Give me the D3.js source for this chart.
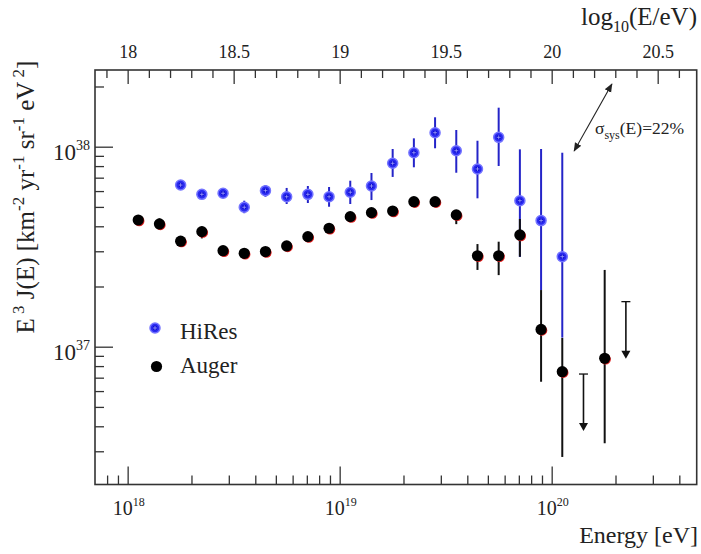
<!DOCTYPE html>
<html>
<head>
<meta charset="utf-8">
<script src="https://cdn.jsdelivr.net/npm/d3@7/dist/d3.min.js"></script>
<style>
body { margin: 0; background: #fff; }
svg text { font-family: 'Liberation Serif', 'DejaVu Serif', serif; fill: #222; }
</style>
</head>
<body>
<div id="chart"></div>
<script>
const width = 701;
const height = 554;

// plot frame
const plotLeft = 95, plotRight = 696.7, plotTop = 70, plotBottom = 484.5;

// Auger spectrum, E^3 J in units of 1e37
const augerLogE = [18.05, 18.15, 18.25, 18.35, 18.45, 18.55, 18.65, 18.75, 18.85, 18.95, 19.05, 19.15, 19.25, 19.35, 19.45, 19.55, 19.65, 19.75, 19.85, 19.95, 20.05, 20.25];
const augerFlux = [4.30, 4.11, 3.37, 3.76, 3.02, 2.93, 2.99, 3.19, 3.55, 3.91, 4.47, 4.68, 4.77, 5.31, 5.31, 4.56, 2.85, 2.85, 3.62, 1.22, 0.75, 0.875];
const augerLow = [4.18, 3.85, 3.15, 3.48, 2.94, 2.86, 2.92, 3.12, 3.47, 3.82, 4.36, 4.55, 4.62, 5.12, 5.08, 4.10, 2.42, 2.28, 2.82, 0.668, 0.281, 0.329];
const augerHigh = [4.42, 4.38, 3.54, 3.98, 3.10, 3.00, 3.06, 3.26, 3.63, 4.00, 4.58, 4.81, 4.92, 5.50, 5.54, 4.80, 3.26, 3.35, 4.35, 1.92, 1.106, 2.42];
// Auger upper limits
const augerLimitLogE = [20.15, 20.35];
const augerLimitFlux = [0.73, 1.68];

// HiRes spectrum, E^3 J in units of 1e37
const hiresLogE = [18.25, 18.35, 18.45, 18.55, 18.65, 18.75, 18.85, 18.95, 19.05, 19.15, 19.25, 19.35, 19.45, 19.55, 19.65, 19.75, 19.85, 19.95, 20.05];
const hiresFlux = [6.43, 5.78, 5.85, 4.98, 6.03, 5.62, 5.78, 5.62, 5.92, 6.36, 8.26, 9.33, 11.75, 9.55, 7.74, 11.14, 5.37, 4.27, 2.82];
const hiresLow = [6.14, 5.52, 5.58, 4.65, 5.62, 5.17, 5.23, 5.01, 5.17, 5.41, 7.06, 7.89, 9.82, 7.41, 5.52, 8.01, 2.81, 1.92, 1.11];
const hiresHigh = [6.74, 6.05, 6.12, 5.37, 6.43, 6.22, 6.36, 6.29, 6.76, 7.39, 9.74, 11.01, 14.03, 12.12, 10.71, 15.67, 9.70, 9.74, 9.33];

// tick labels
const topTicks = [18, 18.5, 19, 19.5, 20, 20.5];
const xDecades = [18, 19, 20];
const yDecades = [37, 38];

// systematic uncertainty arrow (log E, flux in 1e37)
const sysLogE = [20.106, 20.284];
const sysFlux = [9.52, 20.6];

const unit = 1e37;
const serif = "'Liberation Serif', 'DejaVu Serif', serif";

//creating SVG
let svg = d3.select("#chart")
    .append("svg")
    .attr("width", width)
    .attr("height", height)
    .style("font-family", serif);

//scales
const logMin = 17.846, logMax = 20.684;
const x = d3.scaleLog()
    .domain([Math.pow(10, logMin), Math.pow(10, logMax)])
    .range([plotLeft, plotRight]);
const xTop = d3.scaleLinear()
    .domain([logMin, logMax])
    .range([plotLeft, plotRight]);
const y = d3.scaleLog()
    .domain([Math.pow(10, 36.311), Math.pow(10, 38.3835)])
    .range([plotBottom, plotTop]);

const E = l => Math.pow(10, l);

//minor tick positions for log axes
const minorLog = (lo, hi, dom) => {
    let out = [];
    for (let e = lo; e <= hi; e++) {
        for (let m = 2; m <= 9; m++) {
            let v = m * Math.pow(10, e);
            if (v > dom[0] && v < dom[1]) out.push(v);
        }
    }
    return out;
};

const tickColor = "#333";

//left axis
svg.append("g")
    .attr("transform", "translate(" + plotLeft + ",0)")
    .attr("color", tickColor)
    .call(d3.axisLeft(y).tickValues(yDecades.map(E)).tickSize(-18).tickFormat(""))
    .call(g => g.select(".domain").remove())
    .selectAll("line").attr("stroke-width", 1.3);
svg.append("g")
    .attr("transform", "translate(" + plotLeft + ",0)")
    .attr("color", tickColor)
    .call(d3.axisLeft(y).tickValues(minorLog(36, 38, y.domain())).tickSize(-9).tickFormat(""))
    .call(g => g.select(".domain").remove())
    .selectAll("line").attr("stroke-width", 1.3);

//bottom axis
svg.append("g")
    .attr("transform", "translate(0," + plotBottom + ")")
    .attr("color", tickColor)
    .call(d3.axisBottom(x).tickValues(xDecades.map(E)).tickSize(-18).tickFormat(""))
    .call(g => g.select(".domain").remove())
    .selectAll("line").attr("stroke-width", 1.3);
svg.append("g")
    .attr("transform", "translate(0," + plotBottom + ")")
    .attr("color", tickColor)
    .call(d3.axisBottom(x).tickValues(minorLog(17, 20, x.domain())).tickSize(-9).tickFormat(""))
    .call(g => g.select(".domain").remove())
    .selectAll("line").attr("stroke-width", 1.3);

//top axis (log10 E)
let topAxis = svg.append("g")
    .attr("transform", "translate(0," + plotTop + ")")
    .attr("color", tickColor)
    .call(d3.axisTop(xTop).tickValues(topTicks).tickSize(-14).tickPadding(12).tickFormat(d3.format("")))
    .call(g => g.select(".domain").remove());
topAxis.attr("font-family", serif).attr("font-size", 18);
topAxis.selectAll("line").attr("stroke-width", 1.3);
topAxis.selectAll("text").attr("fill", "#222");
let topMinor = d3.range(179, 207).map(d => d / 10).filter(d => topTicks.indexOf(d) < 0);
svg.append("g")
    .attr("transform", "translate(0," + plotTop + ")")
    .attr("color", tickColor)
    .call(d3.axisTop(xTop).tickValues(topMinor).tickSize(-8).tickFormat(""))
    .call(g => g.select(".domain").remove())
    .selectAll("line").attr("stroke-width", 1.3);

//frame
svg.append("rect")
    .attr("x", plotLeft)
    .attr("y", plotTop)
    .attr("width", plotRight - plotLeft)
    .attr("height", plotBottom - plotTop)
    .attr("fill", "none")
    .attr("stroke", "#333")
    .attr("stroke-width", 1.6);

//tick labels with superscripts
xDecades.forEach(d => {
    let t = svg.append("text")
        .attr("x", x(E(d)) + 1)
        .attr("y", 515)
        .attr("text-anchor", "middle")
        .attr("font-size", 20);
    t.append("tspan").text("10");
    t.append("tspan").attr("dy", -9).attr("font-size", 12).text(d);
});
yDecades.forEach(d => {
    let t = svg.append("text")
        .attr("x", 90)
        .attr("y", y(E(d)) + 13)
        .attr("text-anchor", "end")
        .attr("font-size", 23);
    t.append("tspan").text("10");
    t.append("tspan").attr("dy", -10).attr("font-size", 14).text(d);
});

//axis titles
let yl = svg.append("text")
    .attr("transform", "translate(34,197) rotate(-90)")
    .attr("text-anchor", "middle")
    .attr("font-size", 25);
const ylParts = [["E", 0], [" 3", 1], [" J(E) [km", 0], ["-2", 1], [" yr", 0], ["-1", 1], [" sr", 0], ["-1", 1], [" eV", 0], [" 2", 1], ["]", 0]];
let prevSup = 0;
ylParts.forEach(p => {
    let dy = p[1] === prevSup ? 0 : (p[1] ? -10 : 10);
    yl.append("tspan")
        .attr("dy", dy)
        .attr("font-size", p[1] ? 17 : 25)
        .text(p[0]);
    prevSup = p[1];
});

svg.append("text")
    .attr("x", 698)
    .attr("y", 543)
    .attr("text-anchor", "end")
    .attr("font-size", 24)
    .text("Energy [eV]");

let lt = svg.append("text")
    .attr("x", 697)
    .attr("y", 25)
    .attr("text-anchor", "end")
    .attr("font-size", 25);
lt.append("tspan").text("log");
lt.append("tspan").attr("dy", 7).attr("font-size", 16).text("10");
lt.append("tspan").attr("dy", -7).text("(E/eV)");

//systematic arrow
let defs = svg.append("defs");
defs.append("marker")
    .attr("id", "head")
    .attr("viewBox", "0 0 10 10")
    .attr("refX", 9).attr("refY", 5)
    .attr("markerWidth", 9).attr("markerHeight", 9)
    .attr("markerUnits", "userSpaceOnUse")
    .attr("orient", "auto-start-reverse")
    .append("path")
    .attr("d", "M0,1 L10,5 L0,9 Z")
    .attr("fill", "#222");
svg.append("line")
    .attr("x1", x(E(sysLogE[0])))
    .attr("y1", y(sysFlux[0] * unit))
    .attr("x2", x(E(sysLogE[1])))
    .attr("y2", y(sysFlux[1] * unit))
    .attr("stroke", "#222")
    .attr("stroke-width", 1.1)
    .attr("marker-start", "url(#head)")
    .attr("marker-end", "url(#head)");

let st = svg.append("text")
    .attr("x", 595)
    .attr("y", 134)
    .attr("font-size", 17.5);
st.append("tspan").text("σ");
st.append("tspan").attr("dy", 5).attr("font-size", 12).text("sys");
st.append("tspan").attr("dy", -5).text("(E)=22%");

//HiRes error bars
const blueBar = "#2424c8";
svg.selectAll(".hbar")
    .data(hiresLogE)
    .enter()
    .append("line")
    .attr("class", "hbar")
    .attr("x1", d => x(E(d)))
    .attr("x2", d => x(E(d)))
    .attr("y1", (d, i) => y(hiresHigh[i] * unit))
    .attr("y2", (d, i) => y(hiresLow[i] * unit))
    .attr("stroke", blueBar)
    .attr("stroke-width", 2);

//HiRes markers
const hiresMarker = (g) => {
    g.append("circle").attr("r", 5).attr("fill", "#2a2af0").attr("stroke", "#7474ff").attr("stroke-width", 1.5);
    g.append("circle").attr("r", 2.4).attr("fill", "#0c0cd0");
    g.append("path").attr("d", "M-2,0 H2 M0,-2 V2").attr("stroke", "#b0b0ff").attr("stroke-width", 0.7);
};
svg.selectAll(".hdot")
    .data(hiresLogE)
    .enter()
    .append("g")
    .attr("class", "hdot")
    .attr("transform", (d, i) => "translate(" + x(E(d)) + "," + y(hiresFlux[i] * unit) + ")")
    .each(function () { hiresMarker(d3.select(this)); });

//Auger error bars
svg.selectAll(".abar")
    .data(augerLogE)
    .enter()
    .append("line")
    .attr("class", "abar")
    .attr("x1", d => x(E(d)))
    .attr("x2", d => x(E(d)))
    .attr("y1", (d, i) => y(augerHigh[i] * unit))
    .attr("y2", (d, i) => y(augerLow[i] * unit))
    .attr("stroke", "#111")
    .attr("stroke-width", 2);

//Auger markers (red underlay just peeks out)
svg.selectAll(".ared")
    .data(augerLogE)
    .enter()
    .append("circle")
    .attr("class", "ared")
    .attr("cx", d => x(E(d)) + 1)
    .attr("cy", (d, i) => y(augerFlux[i] * unit) + 1)
    .attr("r", 5.2)
    .attr("fill", "#e02020");
svg.selectAll(".adot")
    .data(augerLogE)
    .enter()
    .append("circle")
    .attr("class", "adot")
    .attr("cx", d => x(E(d)))
    .attr("cy", (d, i) => y(augerFlux[i] * unit))
    .attr("r", 5.6)
    .attr("fill", "#000");

//Auger upper limits
augerLimitLogE.forEach((d, i) => {
    let cx = x(E(d));
    let cy = y(augerLimitFlux[i] * unit);
    let g = svg.append("g").attr("transform", "translate(" + cx + "," + cy + ")");
    g.append("line").attr("x1", -4.5).attr("x2", 4.5).attr("stroke", "#111").attr("stroke-width", 1.3);
    g.append("line").attr("y1", 0).attr("y2", 50).attr("stroke", "#111").attr("stroke-width", 1.6);
    g.append("path").attr("d", "M-4.5,49 L4.5,49 L0,57 Z").attr("fill", "#111");
});

//legend
let lg1 = svg.append("g").attr("transform", "translate(155,328)");
hiresMarker(lg1);
svg.append("text").attr("x", 180).attr("y", 339).attr("font-size", 23).text("HiRes");
svg.append("circle").attr("cx", 156.5).attr("cy", 366.5).attr("r", 5.6).attr("fill", "#000");
svg.append("text").attr("x", 180).attr("y", 373).attr("font-size", 23).text("Auger");
</script>
</body>
</html>
